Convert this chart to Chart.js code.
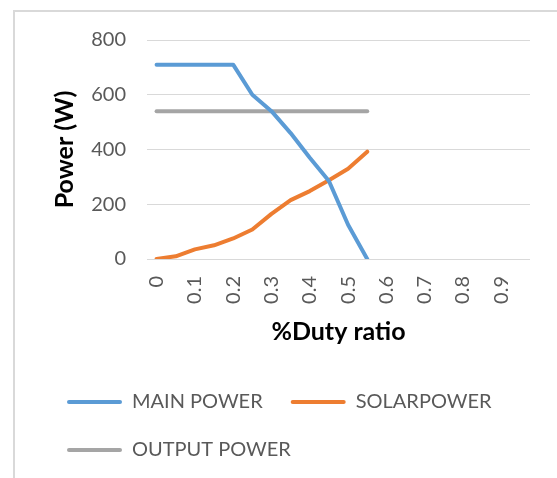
<!DOCTYPE html>
<html>
<head>
<meta charset="utf-8">
<script src="https://cdn.jsdelivr.net/npm/chart.js@4/dist/chart.umd.min.js"></script>
<style>
  html, body { margin: 0; padding: 0; background: #fff; }
  #frame {
    position: absolute; left: 13px; top: 10px; width: 700px; height: 700px;
    border-left: 2px solid #d9d9d9; border-top: 2px solid #d9d9d9;
  }
  #wrap { position: absolute; left: 0; top: 0; width: 557px; height: 478px; }
</style>
</head>
<body>
<div id="frame"></div>
<div id="wrap"><canvas id="power"></canvas></div>
<script>
// duty ratio categories (every 0.05, only every other one is labelled)
const dutyRatio = ['0', '0.05', '0.1', '0.15', '0.2', '0.25', '0.3', '0.35', '0.4', '0.45',
                   '0.5', '0.55', '0.6', '0.65', '0.7', '0.75', '0.8', '0.85', '0.9', '0.95'];
const mainPower = [710, 710, 710, 710, 710, 600, 540, 460, 370, 285, 125, 0];
const solarPower = [0, 10, 35, 50, 75, 108, 165, 215, 248, 288, 330, 392];
const outputPower = [540, 540, 540, 540, 540, 540, 540, 540, 540, 540, 540, 540];
const yTicks = [0, 200, 400, 600, 800];

const FONT = 'Lato, "Open Sans", sans-serif';
const GREY_TEXT = '#595959';

function series(label, data, color) {
    return {
        label: label,
        data: data,
        borderColor: color,
        backgroundColor: color,
        borderWidth: 4,
        pointRadius: 0,
        tension: 0,
        borderCapStyle: 'round',
        borderJoinStyle: 'round'
    };
}

var ctx = document.getElementById('power').getContext('2d');
var chart = new Chart(ctx, {
    type: 'line',
    data: {
        labels: dutyRatio,
        datasets: [
            series('MAIN POWER', mainPower, '#5b9bd5'),
            series('SOLARPOWER', solarPower, '#ed7d31'),
            series('OUTPUT POWER', outputPower, '#a5a5a5')
        ]
    },
    options: {
        responsive: true,
        maintainAspectRatio: false,
        animation: false,
        layout: {
            padding: { left: 39, right: 27, top: 40, bottom: 8 }
        },
        scales: {
            x: {
                type: 'category',
                offset: true,
                grid: { display: false, drawTicks: false },
                border: { display: false },
                afterFit: function (axis) {
                    axis.height = 105;
                    axis.paddingLeft = 0;
                    axis.paddingRight = 0;
                },
                ticks: {
                    autoSkip: false,
                    minRotation: 90,
                    maxRotation: 90,
                    padding: 17,
                    color: GREY_TEXT,
                    font: { family: FONT, size: 20 },
                    callback: function (val, index) {
                        return index % 2 === 0 ? this.getLabelForValue(val) : '';
                    }
                },
                title: {
                    display: true,
                    text: '%Duty ratio',
                    color: '#000',
                    font: { family: FONT, size: 25, weight: 'bold' },
                    padding: { top: 0, bottom: 17 }
                }
            },
            y: {
                min: 0,
                max: 800,
                afterBuildTicks: function (axis) {
                    axis.ticks = yTicks.map(v => ({ value: v }));
                },
                afterFit: function (axis) { axis.width = 108; },
                grid: { color: '#d9d9d9', lineWidth: 1, drawTicks: false },
                border: { display: false },
                ticks: {
                    padding: 21,
                    color: GREY_TEXT,
                    font: { family: FONT, size: 20 }
                },
                title: {
                    display: true,
                    text: 'Power (W)',
                    color: '#000',
                    font: { family: FONT, size: 25, weight: 'bold' },
                    padding: { top: 11, bottom: 0 }
                }
            }
        },
        plugins: {
            tooltip: { enabled: false },
            legend: {
                position: 'bottom',
                align: 'start',
                labels: {
                    boxWidth: 55,
                    boxHeight: 4,
                    padding: 28,
                    color: GREY_TEXT,
                    font: { family: FONT, size: 20 },
                    generateLabels: function (chart) {
                        return chart.data.datasets.map((ds, i) => ({
                            text: ds.label,
                            fillStyle: ds.borderColor,
                            strokeStyle: ds.borderColor,
                            lineWidth: 0,
                            borderRadius: 2,
                            fontColor: GREY_TEXT,
                            hidden: false,
                            datasetIndex: i
                        }));
                    }
                }
            }
        }
    }
});
</script>
</body>
</html>
